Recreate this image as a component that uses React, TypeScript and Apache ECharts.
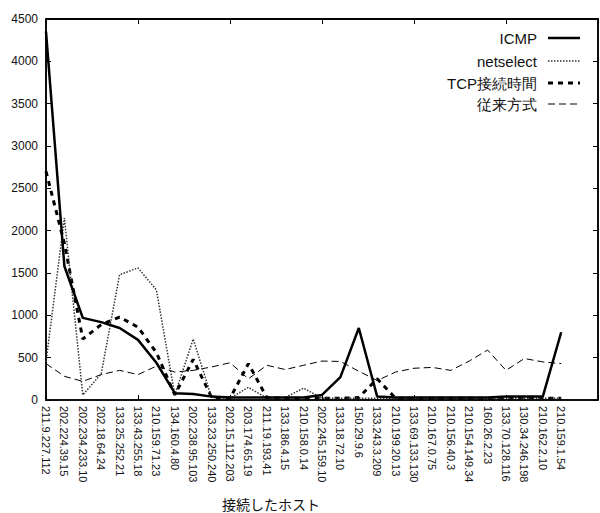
import React, { useEffect, useRef } from "react";
import * as echarts from "echarts";

const hosts = [
  "211.9.227.112", "202.224.39.15", "202.234.233.10", "202.18.64.24", "133.25.252.21",
  "133.43.255.18", "210.159.71.23", "134.160.4.80", "202.238.95.103", "133.23.250.240",
  "202.15.112.203", "203.174.65.19", "211.19.193.41", "133.186.4.15", "210.158.0.14",
  "202.245.159.10", "133.18.72.10", "150.29.9.6", "133.243.3.209", "210.199.20.13",
  "133.69.133.130", "210.167.0.75", "210.156.40.3", "210.154.149.34", "160.26.2.23",
  "133.70.128.116", "130.34.246.198", "210.162.2.10", "210.159.1.54",
];
const padCategories = ["", ""];

const icmp = [4350, 1580, 970, 920, 850, 710, 440, 80, 70, 40, 30, 30, 30, 30, 30, 60, 270, 850, 40, 30, 30, 30, 30, 30, 30, 40, 40, 40, 800];
const netselect = [450, 2150, 60, 310, 1480, 1560, 1300, 60, 720, 30, 20, 150, 20, 30, 140, 20, 20, 20, 20, 20, 20, 20, 20, 20, 20, 20, 20, 20, 20];
const tcp = [2700, 1850, 720, 890, 980, 860, 560, 60, 480, 30, 20, 430, 30, 20, 20, 20, 20, 30, 250, 20, 20, 20, 20, 20, 20, 20, 20, 20, 20];
const legacy = [430, 280, 220, 300, 350, 300, 400, 330, 350, 390, 440, 250, 410, 360, 410, 460, 455, 340, 230, 330, 375, 385, 350, 460, 590, 350, 490, 450, 430];

const seriesNames = ["ICMP", "netselect", "TCP接続時間", "従来方式"];
const yTicks = { min: 0, max: 4500, interval: 500 };
const xAxisTitle = "接続したホスト";

const FONT = "'Liberation Sans', Arial, sans-serif";

const styles = [
  { color: "#000", width: 2.5, dash: null as number[] | null },
  { color: "#333", width: 1.5, dash: [1.5, 1.5] },
  { color: "#000", width: 3, dash: [5, 5] },
  { color: "#000", width: 1, dash: [7, 4] },
];

export default function App() {
  const ref = useRef<HTMLDivElement>(null);
  useEffect(() => {
    document.body.style.margin = "0";
    if (!ref.current) return;
    const chart = echarts.init(ref.current, undefined, { renderer: "svg" });
    const dataSets = [icmp, netselect, tcp, legacy];
    const legendY = [38, 61, 83, 104];
    const graphics: any[] = [];
    seriesNames.forEach((name, i) => {
      graphics.push({
        type: "text",
        x: 537,
        y: legendY[i],
        style: {
          text: name,
          align: "right",
          verticalAlign: "middle",
          fontSize: 15,
          fill: "#111",
          fontFamily: FONT,
        },
      });
      graphics.push({
        type: "line",
        shape: { x1: 548, y1: legendY[i], x2: 580, y2: legendY[i] },
        style: {
          stroke: styles[i].color,
          lineWidth: styles[i].width,
          lineDash: styles[i].dash || undefined,
        },
      });
    });
    graphics.push({
      type: "line",
      z: 100,
      shape: { x1: 46, y1: 19, x2: 598, y2: 19 },
      style: { stroke: "#000", lineWidth: 1.5 },
    });
    graphics.push({
      type: "text",
      x: 271,
      y: 504,
      style: {
        text: xAxisTitle,
        align: "center",
        verticalAlign: "middle",
        fontSize: 14,
        fill: "#111",
        fontFamily: "'Noto Sans CJK JP', sans-serif",
      },
    });
    chart.setOption({
      animation: false,
      backgroundColor: "#ffffff",
      textStyle: { fontFamily: FONT },
      graphic: graphics,
      grid: {
        left: 46, right: 2, top: 19, bottom: 113, containLabel: false,
        show: true, borderColor: "#000", borderWidth: 1.5, backgroundColor: "transparent",
      },
      xAxis: [
        {
          type: "category",
          data: hosts.concat(padCategories),
          boundaryGap: false,
          axisLine: { onZero: false, lineStyle: { color: "#000", width: 1.5 } },
          axisTick: { inside: true, length: 5, interval: 4, lineStyle: { color: "#000" } },
          axisLabel: { rotate: -90, interval: 0, fontSize: 11, color: "#111", margin: 6, fontFamily: FONT },
          splitLine: { show: false },
        },
        {
          type: "value",
          position: "top",
          min: 0,
          max: 30,
          interval: 5,
          axisLine: { show: true, onZero: false, lineStyle: { color: "#000", width: 1.5 } },
          axisTick: { show: true, inside: true, length: 5, lineStyle: { color: "#000" } },
          axisLabel: { show: false },
          splitLine: { show: false },
        },
      ],
      yAxis: [
        {
          type: "value",
          min: yTicks.min,
          max: yTicks.max,
          interval: yTicks.interval,
          axisLine: { show: true, onZero: false, lineStyle: { color: "#000", width: 1.5 } },
          axisTick: { show: true, inside: true, length: 5, lineStyle: { color: "#000" } },
          axisLabel: { fontSize: 12, color: "#111", margin: 8, fontFamily: FONT, formatter: (v: number) => String(v) },
          splitLine: { show: false },
        },
        {
          type: "value",
          position: "right",
          min: yTicks.min,
          max: yTicks.max,
          interval: yTicks.interval,
          axisLine: { show: true, onZero: false, lineStyle: { color: "#000", width: 1.5 } },
          axisTick: { show: true, inside: true, length: 5, lineStyle: { color: "#000" } },
          axisLabel: { show: false },
          splitLine: { show: false },
        },
      ],
      series: seriesNames.map((name, i) => ({
        name,
        type: "line",
        data: dataSets[i],
        symbol: "none",
        color: styles[i].color,
        lineStyle: { color: styles[i].color, width: styles[i].width, type: styles[i].dash || "solid" },
        z: 5 - i,
      })),
    });
    return () => chart.dispose();
  }, []);
  return <div ref={ref} style={{ width: 600, height: 513 }} />;
}
